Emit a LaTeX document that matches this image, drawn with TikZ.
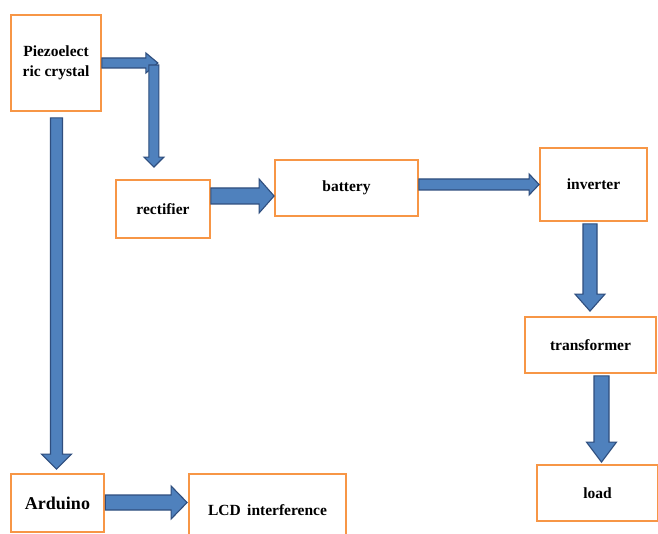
\documentclass[tikz,border=0pt]{standalone}
\usepackage{fontspec}
\setmainfont{Liberation Serif}
\usetikzlibrary{calc}
\definecolor{boxedge}{HTML}{F79646}
\definecolor{arrowfill}{HTML}{4F81BD}
\definecolor{arrowedge}{HTML}{2F4E7E}

% block arrow: shaft half width, head half width, head length, from, to
\newcommand{\flowarrow}[5]{
  \coordinate (fa-s) at (#4);
  \coordinate (fa-t) at (#5);
  \coordinate (fa-h) at ($(fa-t)!#3!(fa-s)$);
  \draw[flow] ($(fa-s)!#1!90:(fa-t)$) -- ($(fa-h)!#1!-90:(fa-s)$) -- ($(fa-h)!#2!-90:(fa-s)$)
    -- (fa-t) -- ($(fa-h)!#2!90:(fa-s)$) -- ($(fa-h)!#1!90:(fa-s)$) -- ($(fa-s)!#1!-90:(fa-t)$) -- cycle;
}

\begin{document}
\begin{tikzpicture}[x=1pt, y=-1pt,
  block/.style={draw=boxedge, line width=1.8pt, fill=white, align=center, inner sep=0pt,
    font=\fontsize{15.5}{20}\selectfont\bfseries},
  flow/.style={fill=arrowfill, draw=arrowedge, line width=1.1pt, line join=miter}]
\useasboundingbox (0,0) rectangle (658,534);
\fill[white] (0,0) rectangle (658,534);

\node[block, minimum width=90pt, minimum height=96pt] (piezo) at (56,63) {Piezoelect\\ric crystal};
\node[block, minimum width=94pt, minimum height=58pt] (rect) at (163,209) {rectifier};
\node[block, minimum width=143pt, minimum height=56pt] (batt) at (346.5,188) {battery};
\node[block, minimum width=107pt, minimum height=73pt] (inv) at (593.5,184.5) {inverter};
\node[block, minimum width=131pt, minimum height=56pt] (trans) at (590.5,345) {transformer};
\node[block, minimum width=121pt, minimum height=56pt] (load) at (597.5,493) {load};
\node[block, minimum width=93pt, minimum height=58pt, font=\fontsize{18}{20}\selectfont\bfseries] (ard) at (57.5,503) {Arduino};
\node[block, minimum width=157pt, minimum height=72pt] (lcd) at (267.5,510) {LCD\ \,interference};

\flowarrow{5pt}{10pt}{12pt}{piezo.east}{$(piezo.east)+(56,0)$}
\flowarrow{5pt}{10pt}{10pt}{$(piezo.east)+(52,2)$}{$(piezo.east |- rect.north)+(52,-12)$}
\flowarrow{8pt}{17pt}{15pt}{$(rect.east)+(0,-13)$}{$(rect.east -| batt.west)+(0,-13)$}
\flowarrow{5.5pt}{10.5pt}{10pt}{$(batt.east)+(0,-3.5)$}{$(batt.east -| inv.west)+(0,-3.5)$}
\flowarrow{7pt}{15pt}{17pt}{$(inv.south)+(-3.5,2)$}{$(inv.south |- trans.north)+(-3.5,-5)$}
\flowarrow{7.5pt}{15pt}{20pt}{$(trans.south)+(11,2)$}{$(trans.south |- load.north)+(11,-2)$}
\flowarrow{6pt}{15pt}{15pt}{$(piezo.south)+(0.5,6)$}{$(piezo.south |- ard.north)+(0.5,-4)$}
\flowarrow{7.5pt}{16.5pt}{16pt}{$(ard.east)+(0.5,-0.5)$}{$(ard.east -| lcd.west)+(-1,-0.5)$}
\end{tikzpicture}
\end{document}
